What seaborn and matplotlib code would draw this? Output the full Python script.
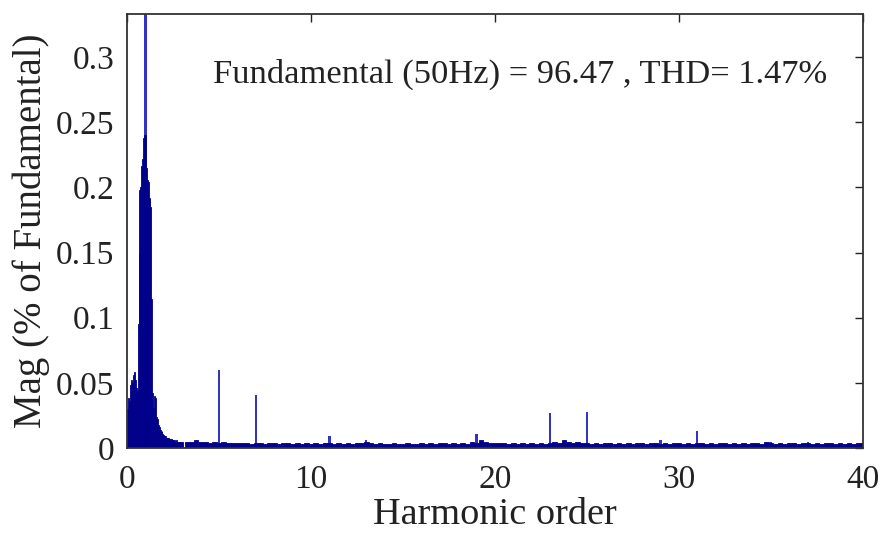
import numpy as np
import pandas as pd
import matplotlib
matplotlib.use("Agg")
import matplotlib.pyplot as plt
import seaborn as sns

# Low-frequency part of the spectrum (0 to 3, step 0.05)
low_order = np.round(np.arange(0, 3.0001, 0.05), 2)
low_mag = [0.012, 0.030, 0.038, 0.036, 0.048, 0.052, 0.050, 0.056, 0.058, 0.052,
           0.046, 0.044, 0.095, 0.150, 0.198, 0.200, 0.216, 0.222, 0.238, 0.240,
           0.240, 0.215, 0.206, 0.204, 0.192, 0.190, 0.185, 0.114, 0.042, 0.031,
           0.040, 0.038, 0.024, 0.022, 0.018, 0.016, 0.014, 0.012, 0.013, 0.011,
           0.010, 0.009, 0.009, 0.008, 0.008, 0.008, 0.007, 0.007, 0.007, 0.006,
           0.006, 0.006, 0.006, 0.005, 0.006, 0.005, 0.005, 0.005, 0.005, 0.005,
           0.005]

# Noise floor from 3.25 to 40 (step 0.25)
floor_order = np.round(np.arange(3.25, 40.0001, 0.25), 2)
floor_mag = [0.005, 0.005, 0.006, 0.005,  0.005, 0.004, 0.005, 0.004,
             0.005, 0.004, 0.004, 0.004,  0.004, 0.004, 0.003, 0.004,
             0.004, 0.003, 0.004, 0.004,  0.003, 0.004, 0.004, 0.003,
             0.004, 0.003, 0.004, 0.003,  0.004, 0.003, 0.004, 0.004,
             0.003, 0.004, 0.003, 0.004,  0.003, 0.004, 0.004, 0.005,
             0.004, 0.003, 0.004, 0.003,  0.003, 0.004, 0.003, 0.003,
             0.004, 0.003, 0.003, 0.004,  0.003, 0.004, 0.003, 0.004,
             0.004, 0.003, 0.004, 0.003,  0.004, 0.003, 0.005, 0.004,
             0.006, 0.005, 0.004, 0.004,  0.004, 0.004, 0.003, 0.004,
             0.003, 0.004, 0.003, 0.004,  0.003, 0.004, 0.003, 0.004,
             0.005, 0.004, 0.006, 0.005,  0.004, 0.005, 0.004, 0.004,
             0.003, 0.004, 0.003, 0.004,  0.004, 0.003, 0.004, 0.003,
             0.004, 0.003, 0.004, 0.004,  0.003, 0.004, 0.004, 0.003,
             0.004, 0.003, 0.004, 0.004,  0.003, 0.004, 0.003, 0.004,
             0.004, 0.003, 0.004, 0.003,  0.004, 0.004, 0.003, 0.004,
             0.003, 0.004, 0.003, 0.004,  0.004, 0.003, 0.005, 0.004,
             0.003, 0.004, 0.003, 0.004,  0.004, 0.003, 0.004, 0.004,
             0.003, 0.004, 0.003, 0.004,  0.004, 0.003, 0.004, 0.003,
             0.004, 0.003, 0.004, 0.004]

# Individual harmonics (fundamental is clipped by the y limit)
harm_order = [1, 5, 7, 11, 13, 19, 23, 25, 29, 31, 35, 37]
harm_mag = [100.0, 0.060, 0.041, 0.0095, 0.006, 0.011, 0.027, 0.028, 0.006, 0.013, 0.005, 0.005]

ytick_vals = [0, 0.05, 0.1, 0.15, 0.2, 0.25, 0.3]
ytick_labels = ["0", "0.05", "0.1", "0.15", "0.2", "0.25", "0.3"]
xtick_vals = [0, 10, 20, 30, 40]
info_text = "Fundamental (50Hz) = 96.47 , THD= 1.47%"

sns.set_style("white")
plt.rcParams["font.family"] = ["Liberation Serif", "DejaVu Serif"]

low_df = pd.DataFrame({"order": low_order, "mag": low_mag})
floor_df = pd.DataFrame({"order": floor_order, "mag": floor_mag})
harm_df = pd.DataFrame({"order": harm_order, "mag": harm_mag})

fig = plt.figure(figsize=(8.84, 5.34), dpi=100)
ax = fig.add_axes([0.1437, 0.161, 0.8325, 0.8128])

bar_color = "#00008a"
# thin harmonic spikes first, the dense spectrum is drawn on top of them
sns.barplot(data=harm_df, x="order", y="mag", native_scale=True, orient="x",
            width=0.06, color="#3434c4", saturation=1, errorbar=None,
            linewidth=0, ax=ax)
sns.barplot(data=floor_df, x="order", y="mag", native_scale=True, orient="x",
            width=1.0, color=bar_color, saturation=1, errorbar=None,
            linewidth=0.6, edgecolor=bar_color, ax=ax)
sns.barplot(data=low_df, x="order", y="mag", native_scale=True, orient="x",
            width=1.0, color=bar_color, saturation=1, errorbar=None,
            linewidth=0.6, edgecolor=bar_color, ax=ax)

ax.set_xlim(0, 40)
ax.set_ylim(0, 0.333)
ax.set_xticks(xtick_vals)
ax.set_xticklabels([str(v) for v in xtick_vals])
ax.set_yticks(ytick_vals)
ax.set_yticklabels(ytick_labels)
ax.tick_params(direction="in", length=6, width=1, top=True, right=True,
               labelsize=24, colors="#222222")
ax.tick_params(axis="x", pad=12)
ax.tick_params(axis="y", pad=9)

for s in ax.spines.values():
    s.set_visible(True)
    s.set_color("#333333")
    s.set_linewidth(1.3)

ax.set_xlabel("Harmonic order", fontsize=27.5, labelpad=2, color="#222222")
ax.set_ylabel("Mag (% of Fundamental)", fontsize=28, labelpad=4, color="#222222")

ax.text(4.65, 0.287, info_text, fontsize=24.8, ha="left", va="center", color="#222222")

fig.savefig("out.png", dpi=100)
